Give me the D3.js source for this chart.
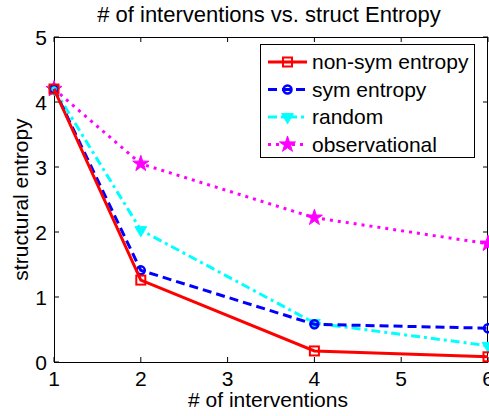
<!DOCTYPE html>
<html>
<head>
<meta charset="utf-8">
<script src="https://cdn.jsdelivr.net/npm/d3@7"></script>
<style>
  body { margin: 0; background: #fff; }
  svg { display: block; font-family: "Liberation Sans", Arial, sans-serif; }
</style>
</head>
<body>
<div id="chart"></div>
<script>
// data
let xValues = [1, 2, 4, 6];
let nonSym = [4.2, 1.26, 0.17, 0.08];
let sym = [4.2, 1.41, 0.58, 0.52];
let randomVals = [4.2, 2.03, 0.6, 0.25];
let observational = [4.2, 3.05, 2.22, 1.82];
let xTicks = [1, 2, 3, 4, 5, 6];
let yTicks = [0, 1, 2, 3, 4, 5];

let seriesNames = ["non-sym entropy", "sym entropy", "random", "observational"];
let seriesColors = ["#ff0000", "#0000ff", "#00ffff", "#ff00ff"];

let series = [
    {name: seriesNames[0], values: nonSym, color: seriesColors[0], dash: null, marker: "square"},
    {name: seriesNames[1], values: sym, color: seriesColors[1], dash: "9,5", marker: "circle"},
    {name: seriesNames[2], values: randomVals, color: seriesColors[2], dash: "9,4,3,4", marker: "triangle"},
    {name: seriesNames[3], values: observational, color: seriesColors[3], dash: "3,5", marker: "star"}
];

let W = 489, H = 416;
let margin = {top: 37, right: 1, bottom: 54, left: 54};
let fs = 21;

let svg = d3.select("#chart").append("svg")
    .attr("width", W)
    .attr("height", H);

let x = d3.scaleLinear().domain([1, 6]).range([margin.left, W - margin.right]);
let y = d3.scaleLinear().domain([0, 5]).range([H - margin.bottom, margin.top]);

// axes box with inward ticks
let tickLen = 5;
let axes = svg.append("g").attr("stroke", "#000").attr("stroke-width", 1);

xTicks.forEach(t => {
    axes.append("line").attr("x1", x(t)).attr("x2", x(t)).attr("y1", y(0)).attr("y2", y(0) - tickLen);
    axes.append("line").attr("x1", x(t)).attr("x2", x(t)).attr("y1", y(5)).attr("y2", y(5) + tickLen);
});
yTicks.forEach(t => {
    axes.append("line").attr("x1", x(1)).attr("x2", x(1) + tickLen).attr("y1", y(t)).attr("y2", y(t));
    axes.append("line").attr("x1", x(6)).attr("x2", x(6) - tickLen).attr("y1", y(t)).attr("y2", y(t));
});

axes.append("rect")
    .attr("x", x(1) + 0.5)
    .attr("y", y(5) + 0.5)
    .attr("width", x(6) - x(1) - 1)
    .attr("height", y(0) - y(5))
    .attr("fill", "none");

// tick labels
svg.append("g").selectAll("text")
    .data(xTicks)
    .join("text")
    .attr("x", d => x(d))
    .attr("y", y(0) + 23.5)
    .attr("text-anchor", "middle")
    .attr("font-size", fs)
    .text(d => d);

svg.append("g").selectAll("text")
    .data(yTicks)
    .join("text")
    .attr("x", x(1) - 7)
    .attr("y", d => y(d) + 7.5)
    .attr("text-anchor", "end")
    .attr("font-size", fs)
    .text(d => d);

// titles
svg.append("text")
    .attr("x", 269)
    .attr("y", 22)
    .attr("text-anchor", "middle")
    .attr("font-size", 22)
    .text("# of interventions vs. struct Entropy");

svg.append("text")
    .attr("x", 268)
    .attr("y", 407)
    .attr("text-anchor", "middle")
    .attr("font-size", fs)
    .text("# of interventions");

svg.append("text")
    .attr("transform", "translate(28," + y(2.5) + ") rotate(-90)")
    .attr("text-anchor", "middle")
    .attr("font-size", fs)
    .text("structural entropy");

// markers
function drawMarker(g, type, color, cx, cy) {
    if (type === "square") {
        g.append("rect").attr("x", cx - 4.5).attr("y", cy - 4.5).attr("width", 9).attr("height", 9)
            .attr("fill", "none").attr("stroke", color).attr("stroke-width", 2);
    } else if (type === "circle") {
        g.append("circle").attr("cx", cx).attr("cy", cy).attr("r", 4)
            .attr("fill", "none").attr("stroke", color).attr("stroke-width", 2.5);
    } else if (type === "triangle") {
        g.append("path")
            .attr("d", d3.symbol(d3.symbolTriangle, 60)())
            .attr("transform", "translate(" + cx + "," + cy + ") rotate(180)")
            .attr("fill", color).attr("stroke", color);
    } else if (type === "star") {
        g.append("path")
            .attr("d", d3.symbol(d3.symbolStar, 80)())
            .attr("transform", "translate(" + cx + "," + cy + ")")
            .attr("fill", color).attr("stroke", color);
    }
}

let line = d3.line().x(d => x(d[0])).y(d => y(d[1]));

let plot = svg.append("g");
series.slice().reverse().forEach(s => {
    let pts = xValues.map((xv, i) => [xv, s.values[i]]);
    plot.append("path")
        .datum(pts)
        .attr("d", line)
        .attr("fill", "none")
        .attr("stroke", s.color)
        .attr("stroke-width", 3)
        .attr("stroke-dasharray", s.dash);
    pts.forEach(p => drawMarker(plot, s.marker, s.color, x(p[0]), y(p[1])));
});

// legend
let legend = svg.append("g");
legend.append("rect")
    .attr("x", 260.5).attr("y", 44.5)
    .attr("width", 214).attr("height", 113)
    .attr("fill", "#fff").attr("stroke", "#000");

series.forEach((s, i) => {
    let ly = 62 + i * 27.5;
    legend.append("line")
        .attr("x1", 268).attr("x2", 307).attr("y1", ly).attr("y2", ly)
        .attr("stroke", s.color).attr("stroke-width", 3)
        .attr("stroke-dasharray", s.dash);
    drawMarker(legend, s.marker, s.color, 287.5, ly);
    legend.append("text")
        .attr("x", 312).attr("y", ly + 7)
        .attr("font-size", fs)
        .text(s.name);
});
</script>
</body>
</html>
